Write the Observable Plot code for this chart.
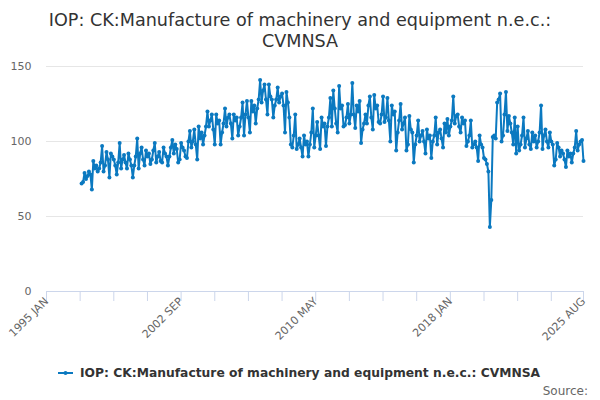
<!DOCTYPE html>
<html>
<head>
<meta charset="utf-8">
<script src="https://cdn.jsdelivr.net/npm/d3@7"></script>
<script src="https://cdn.jsdelivr.net/npm/@observablehq/plot@0.6"></script>
<style>
  html, body { margin: 0; padding: 0; background: #fff; }
  #wrap { position: relative; width: 600px; height: 400px; overflow: hidden; font-family: "DejaVu Sans", sans-serif; }
  #title { position: absolute; left: 0; top: 10px; width: 600px; text-align: center; font-size: 17.6px; line-height: 21px; color: #333; }
  #chart { position: absolute; left: 0; top: 56px; }
  #legend { position: absolute; left: 57px; top: 365px; height: 16px; font-size: 12.3px; font-weight: bold; line-height: 16px; color: #333; white-space: nowrap; display: flex; align-items: center; }
  #legend svg { margin-right: 6px; }
  #source { position: absolute; right: 12px; top: 383px; font-size: 12px; line-height: 16px; color: #666; }
</style>
</head>
<body>
<div id="wrap">
  <div id="title"></div>
  <div id="chart"></div>
  <div id="legend"></div>
  <div id="source">Source:</div>
</div>
<script>
const titleLines = ["IOP: CK:Manufacture of machinery and equipment n.e.c.:", "CVMNSA"];
const seriesName = "IOP: CK:Manufacture of machinery and equipment n.e.c.: CVMNSA";
const seriesColor = "#0b79c0";

// First observation: 1997 JAN (months counted from 1995 JAN = 0)
const startYear = 1997;
const axisOriginYear = 1995;

const values1997_2001 = [
  72, 73, 79, 75, 77, 80, 78, 68, 87, 82, 84, 80,
  82, 86, 97, 80, 84, 93, 88, 76, 92, 90, 88, 84,
  78, 86, 99, 82, 88, 91, 86, 82, 92, 88, 84, 76,
  84, 90, 102, 82, 92, 96, 88, 84, 94, 90, 92, 85,
  88, 94, 99, 86, 90, 93, 87, 86, 96, 92, 90, 84
];
const values2002_2006 = [
  90, 96, 101, 92, 98, 95, 86, 88, 99, 96, 94, 90,
  89, 100, 107, 96, 100, 108, 98, 88, 110, 102, 106, 98,
  104, 110, 120, 110, 114, 118, 108, 98, 118, 112, 114, 98,
  106, 112, 122, 110, 116, 118, 112, 102, 118, 114, 116, 104,
  110, 116, 126, 104, 118, 127, 116, 106, 127, 120, 124, 112
];
const values2007_2011 = [
  122, 128, 141, 126, 134, 138, 128, 118, 138, 130, 128, 116,
  124, 128, 136, 126, 130, 132, 124, 106, 133, 126, 116, 98,
  96, 104, 118, 95, 98, 102, 96, 90, 104, 98, 100, 90,
  98, 106, 122, 96, 104, 113, 104, 95, 116, 110, 112, 97,
  110, 116, 129, 110, 134, 122, 112, 106, 137, 122, 124, 110
];
const values2012_2016 = [
  111, 116, 125, 112, 118, 139, 118, 109, 124, 120, 127, 99,
  108, 112, 118, 112, 124, 130, 116, 108, 131, 122, 124, 113,
  112, 118, 130, 113, 116, 129, 114, 100, 124, 118, 120, 94,
  106, 114, 125, 108, 112, 116, 94, 98, 117, 108, 106, 86,
  98, 104, 114, 100, 104, 107, 100, 92, 108, 102, 104, 89
];
const values2017_2021 = [
  100, 104, 116, 98, 106, 108, 102, 96, 112, 106, 115, 104,
  110, 114, 130, 112, 117, 118, 110, 106, 116, 112, 114, 97,
  100, 104, 114, 96, 98, 100, 96, 87, 104, 98, 96, 89,
  88, 85, 80, 43, 61, 103, 104, 102, 126, 128, 132, 100,
  104, 118, 133, 107, 117, 112, 106, 98, 116, 92, 110, 94
];
const values2022_2025 = [
  98, 104, 116, 96, 102, 107, 98, 95, 106, 100, 104, 96,
  100, 106, 124, 95, 104, 108, 100, 96, 106, 100, 98, 84,
  88, 99, 96, 90, 94, 92, 88, 83, 94, 90, 92, 86,
  92, 96, 107, 94, 98, 100, 101, 87
];

const tickLabels = ["1995 JAN", "2002 SEP", "2010 MAY", "2018 JAN", "2025 AUG"];
const yTicks = [0, 50, 100, 150];

const monthNames = ["JAN","FEB","MAR","APR","MAY","JUN","JUL","AUG","SEP","OCT","NOV","DEC"];
function labelToIndex(s) {
  const [y, m] = s.split(" ");
  return (+y - axisOriginYear) * 12 + monthNames.indexOf(m);
}

const allValues = [].concat(values1997_2001, values2002_2006, values2007_2011, values2012_2016, values2017_2021, values2022_2025);
const offset = (startYear - axisOriginYear) * 12;
const data = allValues.map((v, i) => ({m: offset + i, v}));

const labelIdx = tickLabels.map(labelToIndex);
const labelMap = new Map(labelIdx.map((d, i) => [d, tickLabels[i]]));
const lastIdx = labelIdx[labelIdx.length - 1];
const tickStep = labelIdx[1] / 4;
const allTicks = d3.range(0, lastIdx, tickStep).concat([lastIdx]);

document.getElementById("title").innerHTML = titleLines.join("<br>");

const plot = Plot.plot({
  width: 600,
  height: 290,
  marginTop: 10,
  marginBottom: 55,
  marginLeft: 46,
  marginRight: 17,
  style: {fontFamily: "DejaVu Sans", fontSize: "11px", color: "#666", background: "transparent", overflow: "visible"},
  x: {type: "linear", domain: [0, lastIdx]},
  y: {domain: [0, 150]},
  marks: [
    Plot.gridY(yTicks.slice(1), {stroke: "#e6e6e6", strokeOpacity: 1}),
    Plot.axisY(yTicks, {tickSize: 0, tickPadding: 15, fill: "#666", label: null}),
    Plot.ruleY([0], {stroke: "#ccd6eb"}),
    Plot.axisX(allTicks, {tickSize: 10, stroke: "#ccd6eb", strokeOpacity: 1, tickFormat: () => "", label: null}),
    Plot.axisX(labelIdx, {tickSize: 0, tickPadding: 8, tickRotate: -45, tickFormat: d => labelMap.get(d), fill: "#666", label: null}),
    Plot.line(data, {x: "m", y: "v", stroke: seriesColor, strokeWidth: 2}),
    Plot.dot(data, {x: "m", y: "v", r: 2, fill: seriesColor, stroke: "none"})
  ]
});
document.getElementById("chart").appendChild(plot);

document.getElementById("legend").innerHTML =
  `<svg width="17" height="10"><line x1="1" x2="16" y1="5" y2="5" stroke="${seriesColor}" stroke-width="2"/><circle cx="8.5" cy="5" r="2" fill="${seriesColor}"/></svg><span>${seriesName}</span>`;
</script>
</body>
</html>
